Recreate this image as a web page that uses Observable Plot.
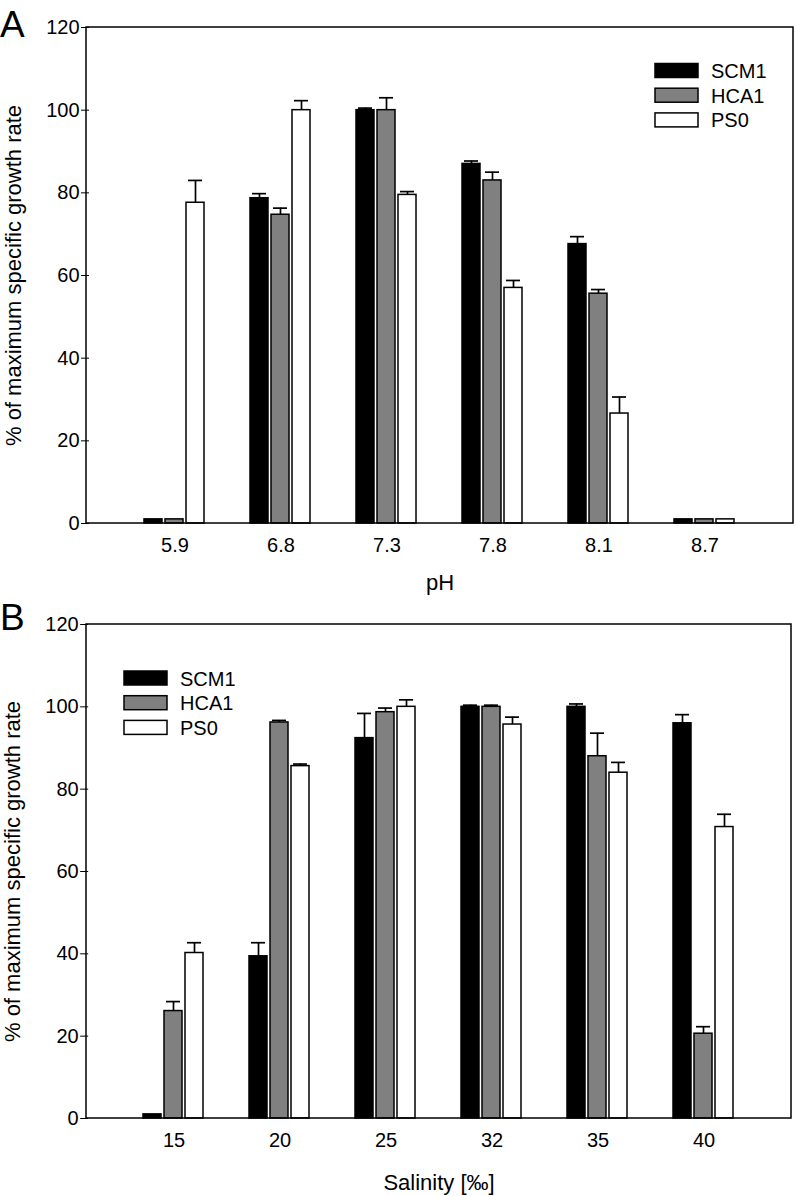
<!DOCTYPE html>
<html><head><meta charset="utf-8">
<script src="https://cdn.jsdelivr.net/npm/d3@7"></script>
<script src="https://cdn.jsdelivr.net/npm/@observablehq/plot@0.6"></script>
<style>
body{margin:0;background:#fff;}
#chart svg{display:block;}
#chart svg, #chart svg text{font-family:"Liberation Sans", Arial, Helvetica, sans-serif !important;}
</style></head><body><div id="chart"></div>
<script>
// ---- data ----
const strains = ["SCM1", "HCA1", "PS0"];
const strainFills = ["#000000", "#808080", "#ffffff"];
const yTicks = [0, 20, 40, 60, 80, 100, 120];
const yLabel = "% of maximum specific growth rate";

const phCats = ["5.9", "6.8", "7.3", "7.8", "8.1", "8.7"];
const phSCM1 = [1, 78.7, 100, 87.0, 67.6, 1];
const phSCM1Err = [0, 1.1, 0.5, 0.7, 1.8, 0];
const phHCA1 = [1, 74.7, 100, 83.0, 55.6, 1];
const phHCA1Err = [0, 1.6, 3.0, 2.0, 1.0, 0];
const phPS0 = [77.6, 100, 79.5, 57.0, 26.6, 1];
const phPS0Err = [5.4, 2.3, 0.8, 1.8, 4.0, 0];

const salCats = ["15", "20", "25", "32", "35", "40"];
const salSCM1 = [1, 39.4, 92.4, 100, 100, 96.0];
const salSCM1Err = [0, 3.3, 6.0, 0.4, 0.7, 2.1];
const salHCA1 = [26.1, 96.2, 98.7, 100, 88.0, 20.6];
const salHCA1Err = [2.3, 0.5, 1.0, 0.4, 5.6, 1.7];
const salPS0 = [40.2, 85.6, 100, 95.7, 84.0, 70.8];
const salPS0Err = [2.5, 0.5, 1.7, 1.8, 2.5, 3.1];

const FONT = "'Liberation Sans', Arial, Helvetica, sans-serif";

function makeRows(cats, vals, errs) {
  const rows = [];
  cats.forEach((c, i) => {
    strains.forEach((s, j) => {
      rows.push({cat: c, strain: s, value: vals[j][i], err: errs[j][i]});
    });
  });
  return rows;
}

function panel(o) {
  const rows = makeRows(o.cats, o.vals, o.errs);
  const errRows = rows.filter(d => d.err > 0);
  const W = 796, H = 598, ML = 86;
  const PI = 0.42, PO = 0.514;
  // the y axis is drawn in the leftmost facet; shift it back to the frame edge
  const step = (W - ML - o.marginRight) / (o.cats.length - PI + 2 * PO);
  const off = PO * step;
  const plot = Plot.plot({
    width: W, height: H,
    marginLeft: ML, marginRight: o.marginRight, marginTop: o.marginTop, marginBottom: o.marginBottom,
    style: {fontFamily: FONT, fontSize: "20px", color: "#000", background: "#fff", overflow: "visible"},
    fx: {domain: o.cats, paddingInner: PI, paddingOuter: PO, label: o.xLabel},
    x: {domain: strains, paddingInner: 0.12, paddingOuter: 0, axis: null},
    y: {domain: [0, 120], label: yLabel},
    color: {domain: strains, range: strainFills},
    marks: [
      Plot.barY(rows, {fx: "cat", x: "strain", y: "value", fill: "strain", stroke: "#000", strokeWidth: 1.5}),
      Plot.ruleX(errRows, {fx: "cat", x: "strain", y1: "value", y2: d => d.value + d.err, stroke: "#000", strokeWidth: 1.7}),
      Plot.tickY(errRows, {fx: "cat", x: "strain", y: d => d.value + d.err, stroke: "#000", strokeWidth: 1.7, insetLeft: 2, insetRight: 2}),
      // tick marks + tick labels
      Plot.axisY({ticks: yTicks, tickSize: 8, tickPadding: 2, fontSize: 20, dx: -off, label: null}),
      // axis title
      Plot.axisY({ticks: [], tickSize: 0, fontSize: 22, dx: -off, label: yLabel, labelAnchor: "center", labelOffset: 84 + off, labelArrow: "none"}),
      Plot.axisFx({anchor: "bottom", tickSize: 0, tickPadding: 14, fontSize: 20, label: null}),
      Plot.axisFx({anchor: "bottom", ticks: [], tickSize: 0, fontSize: 22, label: o.xLabel, labelAnchor: "center", labelOffset: o.labelOffsetX, labelArrow: "none"})
    ]
  });
  const svg = d3.select(plot.tagName === "svg" ? plot : plot.querySelector("svg"));
  // frame box
  svg.append("rect")
    .attr("x", ML).attr("y", o.marginTop)
    .attr("width", W - ML - o.marginRight).attr("height", H - o.marginTop - o.marginBottom)
    .attr("fill", "none").attr("stroke", "#000").attr("stroke-width", 1.5);
  // panel letter
  svg.append("text").text(o.letter)
    .attr("x", 0).attr("y", o.letterY).attr("text-anchor", "start")
    .attr("font-family", FONT).attr("font-size", 37).attr("fill", "#000");
  // legend
  const lg = svg.append("g").attr("text-anchor", "start");
  strains.forEach((s, i) => {
    const yy = o.legendY + i * 24.7;
    lg.append("rect").attr("x", o.legendX).attr("y", yy).attr("width", 43).attr("height", 14)
      .attr("fill", strainFills[i]).attr("stroke", "#000").attr("stroke-width", 1.5);
    lg.append("text").text(s).attr("x", o.legendX + 56).attr("y", yy + 14.5)
      .attr("text-anchor", "start")
      .attr("font-family", FONT).attr("font-size", 20).attr("fill", "#000");
  });
  return plot;
}

const chart = document.getElementById("chart");
chart.appendChild(panel({
  cats: phCats, vals: [phSCM1, phHCA1, phPS0], errs: [phSCM1Err, phHCA1Err, phPS0Err],
  xLabel: "pH", letter: "A", letterY: 37, labelOffsetX: 66,
  marginTop: 27, marginBottom: 75, marginRight: 3,
  legendX: 655, legendY: 63.5
}));
chart.appendChild(panel({
  cats: salCats, vals: [salSCM1, salHCA1, salPS0], errs: [salSCM1Err, salHCA1Err, salPS0Err],
  xLabel: "Salinity [‰]", letter: "B", letterY: 32, labelOffsetX: 71,
  marginTop: 26, marginBottom: 78, marginRight: 5,
  legendX: 124, legendY: 73
}));
</script></body></html>
